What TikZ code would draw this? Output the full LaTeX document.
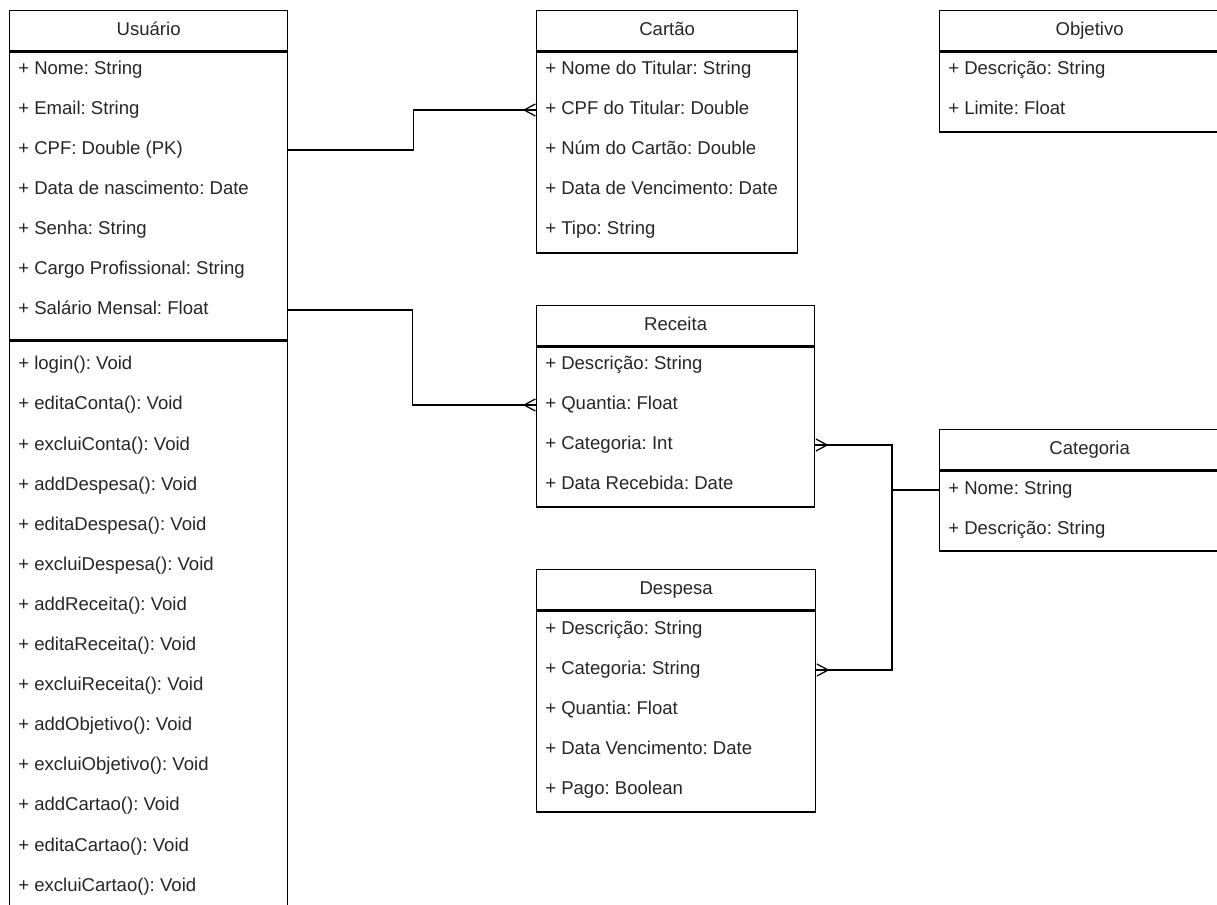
\documentclass[tikz,border=0pt]{standalone}
\usepackage{fontspec}
\setmainfont{Liberation Sans}
\usetikzlibrary{arrows.meta,positioning,calc}

\begin{document}
\begin{tikzpicture}[
  x=0.25mm, y=-0.25mm,
  font=\fontsize{13.2}{15}\selectfont\frenchspacing,
  head/.style={draw,line width=0.9pt,anchor=north west,minimum height=40*0.25mm,inner sep=0pt,
               text height=9.5pt,text depth=2.8pt,text=black!85},
  body/.style={draw,line width=0.9pt,anchor=north west,inner sep=0pt},
  row/.style={anchor=west,inner sep=0pt,text height=9.5pt,text depth=2.8pt,text=black!85},
  link/.style={line width=0.9pt},
  many/.style={link,-{Straight Barb[reversed,length=2.8mm,width=3mm]},postaction={draw,-}}
]
\useasboundingbox (0,0) rectangle (1217,904);
\clip (0,0) rectangle (1217,904);

% Usuario
\node[head,minimum width=278*0.25mm] (usu) at (9,10) {Usuário};
\node[body,minimum width=278*0.25mm,minimum height=288*0.25mm] (usuA) at (usu.south west) {};
\node[body,minimum width=278*0.25mm,minimum height=600*0.25mm] (usuM) at (usuA.south west) {};
\foreach \t [count=\i] in {Nome: String, Email: String, CPF: Double (PK),
    Data de nascimento: Date, Senha: String, Cargo Profissional: String,
    Salário Mensal: Float}
  \node[row] (ua\i) at (18,30+40*\i) {+ \t};
\foreach \t [count=\i] in {login(): Void, editaConta(): Void, excluiConta(): Void,
    addDespesa(): Void, editaDespesa(): Void, excluiDespesa(): Void,
    addReceita(): Void, editaReceita(): Void, excluiReceita(): Void,
    addObjetivo(): Void, excluiObjetivo(): Void, addCartao(): Void,
    editaCartao(): Void, excluiCartao(): Void}
  \node[row] (um\i) at (18,325+40.1*\i) {+ \t};

% Cartao
\node[head,minimum width=261*0.25mm] (car) at (536,10) {Cartão};
\node[body,minimum width=261*0.25mm,minimum height=201*0.25mm] (carA) at (car.south west) {};
\foreach \t [count=\i] in {Nome do Titular: String, CPF do Titular: Double,
    Núm do Cartão: Double, Data de Vencimento: Date, Tipo: String}
  \node[row] (ca\i) at (545,30+40*\i) {+ \t};

% Objetivo
\node[head,minimum width=300*0.25mm] (obj) at (939,10) {Objetivo};
\node[body,minimum width=300*0.25mm,minimum height=80*0.25mm] (objA) at (obj.south west) {};
\foreach \t [count=\i] in {Descrição: String, Limite: Float}
  \node[row] (ob\i) at (948,30+40*\i) {+ \t};

% Receita
\node[head,minimum width=278*0.25mm] (rec) at (536,305) {Receita};
\node[body,minimum width=278*0.25mm,minimum height=160*0.25mm] (recA) at (rec.south west) {};
\foreach \t [count=\i] in {Descrição: String, Quantia: Float, Categoria: Int,
    Data Recebida: Date}
  \node[row] (re\i) at (545,325+40*\i) {+ \t};

% Categoria
\node[head,minimum width=300*0.25mm] (cat) at (939,429) {Categoria};
\node[body,minimum width=300*0.25mm,minimum height=80*0.25mm] (catA) at (cat.south west) {};
\foreach \t [count=\i] in {Nome: String, Descrição: String}
  \node[row] (ct\i) at (948,450+40*\i) {+ \t};

% Despesa
\node[head,minimum width=279*0.25mm] (des) at (536,569) {Despesa};
\node[body,minimum width=279*0.25mm,minimum height=201*0.25mm] (desA) at (des.south west) {};
\foreach \t [count=\i] in {Descrição: String, Categoria: String, Quantia: Float,
    Data Vencimento: Date, Pago: Boolean}
  \node[row] (de\i) at (545,590+40*\i) {+ \t};

% relacoes
\draw[many] (ua3 -| usuA.east) -- ++(125,0) |- (ca2 -| carA.west);
\draw[many] (ua7 -| usuA.east) -- ++(124,0) |- (re2 -| recA.west);
\draw[link] (ct1 -| catA.west) -- ++(-47,0) coordinate (jn);
\draw[many] (jn) |- (re3 -| recA.east);
\draw[many] (jn) |- (de2 -| desA.east);
\end{tikzpicture}
\end{document}
